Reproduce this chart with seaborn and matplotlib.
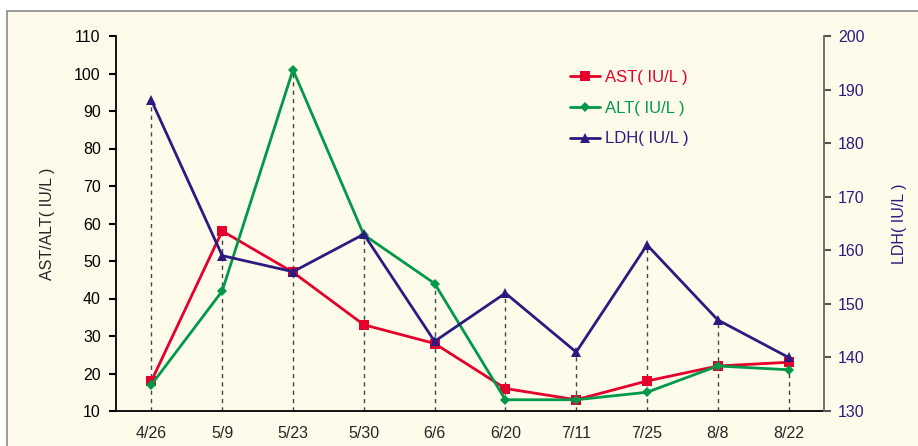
import numpy as np
import pandas as pd
import matplotlib
matplotlib.use("Agg")
import matplotlib.pyplot as plt
import seaborn as sns
from matplotlib.patches import Rectangle

dates = ['4/26', '5/9', '5/23', '5/30', '6/6', '6/20', '7/11', '7/25', '8/8', '8/22']
ast = [18, 58, 47, 33, 28, 16, 13, 18, 22, 23]
alt = [17, 42, 101, 57, 44, 13, 13, 15, 22, 21]
ldh = [188, 159, 156, 163, 143, 152, 141, 161, 147, 140]

red = '#E4002B'
green = '#00994A'
navy = '#2D1A80'

sns.set_style("white")
plt.rcParams['font.family'] = ['Liberation Sans', 'DejaVu Sans']

fig = plt.figure(figsize=(9.18, 4.46), dpi=100, facecolor='white')
# cream panel with gray frame, kept behind the axes
fig.patches.append(Rectangle((7 / 918, -0.05), 1.0, 1 - 11 / 446 + 0.05, transform=fig.transFigure,
                             facecolor='#FEFBEA', edgecolor='#8A8A8A', linewidth=1.2, zorder=-10))

ax = fig.add_axes([116 / 918, 1 - 411 / 446, (824 - 116) / 918, (411 - 36) / 446])
ax.patch.set_alpha(0)
ax2 = ax.twinx()
ax2.patch.set_alpha(0)

df = pd.DataFrame({'pos': np.arange(len(dates)), 'AST': ast, 'ALT': alt, 'LDH': ldh})

# dashed drop lines up to the highest point at each date (in left-axis units)
ldh_left = 10 + (df['LDH'] - 130) * 100 / 70
top = np.maximum(np.maximum(df['AST'], df['ALT']), ldh_left)
ax.vlines(df['pos'], 10, top, colors='#444444', linestyles=(0, (3, 3)), linewidth=1.0, zorder=1)

sns.lineplot(data=df, x='pos', y='AST', ax=ax, color=red, marker='s', markersize=7,
             markeredgewidth=0, linewidth=2, label='AST( IU/L )', zorder=3, legend=False)
sns.lineplot(data=df, x='pos', y='ALT', ax=ax, color=green, marker='D', markersize=5.5,
             markeredgewidth=0, linewidth=2, label='ALT( IU/L )', zorder=3, legend=False)
sns.lineplot(data=df, x='pos', y='LDH', ax=ax2, color=navy, marker='^', markersize=7,
             markeredgewidth=0, linewidth=2, label='LDH( IU/L )', zorder=3, legend=False)

fs = 11.5
ax.set_xlim(-0.5, len(dates) - 0.5)
ax.set_ylim(10, 110)
ax.set_yticks(range(10, 111, 10))
ax2.set_ylim(130, 200)
ax2.set_yticks(range(130, 201, 10))
ax.set_xticks(df['pos'])
ax.set_xticklabels(dates)
ax.set_xlabel('')
ax.set_ylabel('AST/ALT( IU/L )', fontsize=fs, labelpad=14)
ax2.set_ylabel('LDH( IU/L )', fontsize=fs, color=navy, labelpad=20)

ax.tick_params(axis='y', direction='out', length=5, width=1.5, labelsize=fs, colors='black', pad=6, left=True)
ax.tick_params(axis='x', length=0, labelsize=fs, pad=11)
ax2.tick_params(axis='y', direction='out', length=5, width=1.5, labelsize=fs, labelcolor=navy,
                color='#555555', pad=5, right=True)

for a in (ax, ax2):
    a.spines['top'].set_visible(False)
ax.spines['right'].set_visible(False)
ax.spines['left'].set_color('black')
ax.spines['bottom'].set_color('black')
ax.spines['left'].set_linewidth(1.3)
ax.spines['bottom'].set_linewidth(1.3)
ax2.spines['left'].set_visible(False)
ax2.spines['bottom'].set_visible(False)
ax2.spines['right'].set_color('#666666')
ax2.spines['right'].set_linewidth(1.3)

h1, l1 = ax.get_legend_handles_labels()
h2, l2 = ax2.get_legend_handles_labels()
ax2.legend(h1 + h2, l1 + l2, loc='upper left', bbox_to_anchor=(0.62, 0.95), frameon=False,
           fontsize=12, handlelength=1.8, handletextpad=0.3, labelspacing=0.95,
           labelcolor=[red, green, navy])

fig.savefig('out.png', dpi=100, facecolor='white')
